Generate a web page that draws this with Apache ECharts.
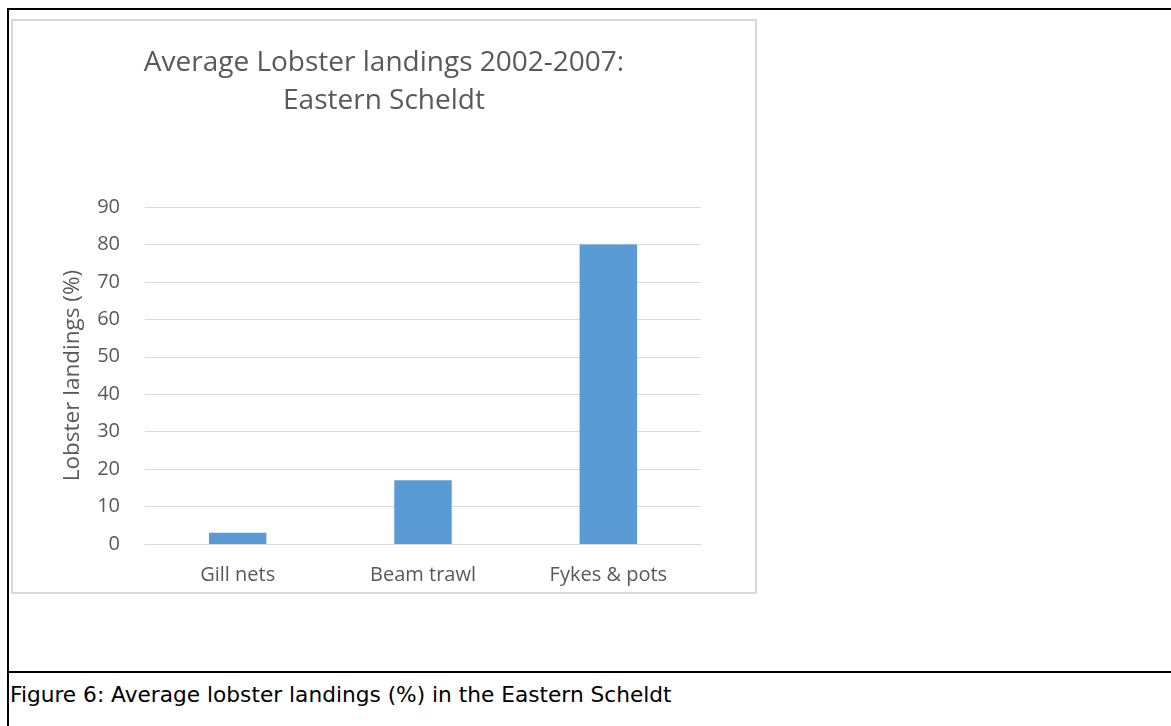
<!DOCTYPE html>
<html>
<head>
<meta charset="utf-8">
<script src="https://cdn.jsdelivr.net/npm/echarts@6/dist/echarts.min.js"></script>
<style>
  html, body { margin: 0; padding: 0; background: #fff; width: 1171px; height: 726px; overflow: hidden; }
  .topline { position: absolute; left: 7px; top: 8px; width: 1164px; height: 2px; background: #000; }
  .leftline { position: absolute; left: 7px; top: 8px; width: 2px; height: 718px; background: #000; }
  .midline { position: absolute; left: 7px; top: 671px; width: 1164px; height: 2px; background: #000; }
  #chart { position: absolute; left: 11px; top: 19px; width: 746px; height: 575px; border: 2px solid #d9d9d9; box-sizing: border-box; }
  .caption { position: absolute; left: 10px; top: 684px; line-height: 22px; white-space: nowrap; font-family: "DejaVu Sans", Verdana, sans-serif; font-size: 21.7px; color: #000; }
</style>
</head>
<body>
<div class="topline"></div>
<div class="leftline"></div>
<div class="midline"></div>
<div id="chart"></div>
<div class="caption">Figure 6: Average lobster landings (%) in the Eastern Scheldt</div>
<script>
// data
var gears = ['Gill nets', 'Beam trawl', 'Fykes & pots'];
var landings = [3, 17, 80];
var yTicks = [0, 90, 10]; // min, max, step

var myChart = echarts.init(document.getElementById('chart'));
var grey = '#595959';
var font = '"Open Sans", "Noto Sans", sans-serif';

myChart.setOption({
    animation: false,
    title: {
        text: 'Average Lobster landings 2002-2007:\nEastern Scheldt',
        left: 'center',
        top: 18,
        textStyle: {
            color: grey,
            fontFamily: font,
            fontWeight: 'normal',
            fontSize: 28,
            lineHeight: 38
        }
    },
    grid: { left: 132, right: 54, top: 186, bottom: 48 },
    xAxis: {
        type: 'category',
        data: gears,
        axisTick: { show: false },
        axisLine: { lineStyle: { color: '#d9d9d9', width: 1 } },
        axisLabel: { color: grey, fontFamily: font, fontSize: 20, margin: 21 }
    },
    yAxis: {
        type: 'value',
        min: yTicks[0],
        max: yTicks[1],
        interval: yTicks[2],
        name: 'Lobster landings (%)',
        nameLocation: 'middle',
        nameGap: 61,
        nameTextStyle: { color: grey, fontFamily: font, fontSize: 22.5 },
        axisLine: { show: false },
        axisTick: { show: false },
        splitLine: { lineStyle: { color: '#d9d9d9', width: 1 } },
        axisLabel: { color: grey, fontFamily: font, fontSize: 20, margin: 25 }
    },
    series: [{
        type: 'bar',
        data: landings,
        barWidth: '31%',
        itemStyle: { color: '#5b9bd5' }
    }]
});
</script>
</body>
</html>
